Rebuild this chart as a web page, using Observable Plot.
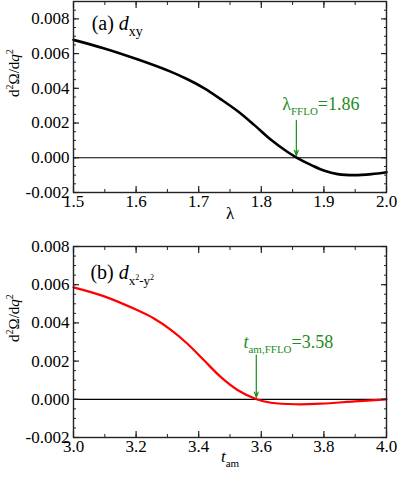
<!DOCTYPE html>
<html>
<head>
<meta charset="utf-8">
<script src="https://cdn.jsdelivr.net/npm/d3@7"></script>
<script src="https://cdn.jsdelivr.net/npm/@observablehq/plot@0.6"></script>
<style>
  html, body { margin: 0; padding: 0; background: white; font-family: "Liberation Serif", serif; }
  #chart svg { display: block; }
  #chart text, #chart tspan { font-family: "Liberation Serif", serif !important; }
</style>
</head>
<body>
<div id="chart"></div>
<script>
// ---- Panel (a): d_xy ----
const lambdaA = [1.500, 1.548, 1.602, 1.655, 1.682, 1.709, 1.735, 1.762, 1.789, 1.816, 1.842, 1.857, 1.880, 1.901, 1.922, 1.949, 1.976, 2.000];
const valuesA = [0.00679, 0.00631, 0.00567, 0.00496, 0.00452, 0.00400, 0.00338, 0.00269, 0.00188, 0.00102, 0.00033, 0.0, -0.00042, -0.00075, -0.00094, -0.00100, -0.00094, -0.00083];
// ---- Panel (b): d_x2-y2 ----
const tamB = [3.000, 3.096, 3.203, 3.257, 3.310, 3.364, 3.417, 3.471, 3.524, 3.585, 3.631, 3.711, 3.791, 3.898, 4.000];
const valuesB = [0.00586, 0.00540, 0.00467, 0.00423, 0.00365, 0.00291, 0.00204, 0.00116, 0.00049, 0.0, -0.00018, -0.00026, -0.00023, -0.00011, 0.0];

// tick labels
const yTicks = [-0.002, 0.000, 0.002, 0.004, 0.006, 0.008];
const xTicksA = [1.5, 1.6, 1.7, 1.8, 1.9, 2.0];
const xTicksB = [3.0, 3.2, 3.4, 3.6, 3.8, 4.0];
const yMinorA = d3.range(-0.002, 0.00901, 0.0005);
const yMinorB = d3.range(-0.002, 0.00801, 0.0005);
const xMinorA = d3.range(1.5, 2.0001, 0.05);
const xMinorB = d3.range(3.0, 4.0001, 0.1);

// annotations
const fflo = { a: 1.856, b: 3.584 };
const green = "#1e8c1e";
const FONT = "Liberation Serif";

const dataA = lambdaA.map((x, i) => ({x, y: valuesA[i]}));
const dataB = tamB.map((x, i) => ({x, y: valuesB[i]}));

function axesMarks(xMajor, xMinor, yMajor, yMinor, xFmt) {
  const yf = d => d.toFixed(3);
  return [
    Plot.axisY(yMajor, {anchor: "left", tickSize: 0, tickPadding: 4, tickFormat: yf, label: null, fill: "black", fontFamily: FONT}),
    Plot.axisY(yMajor, {anchor: "left", tickSize: -6, fill: "none", stroke: "#222", strokeWidth: 1.2, label: null}),
    Plot.axisY(yMajor, {anchor: "right", tickSize: -6, fill: "none", stroke: "#222", strokeWidth: 1.2, label: null}),
    Plot.axisY(yMinor, {anchor: "left", tickSize: -3, fill: "none", stroke: "#222", strokeWidth: 1, label: null}),
    Plot.axisY(yMinor, {anchor: "right", tickSize: -3, fill: "none", stroke: "#222", strokeWidth: 1, label: null}),
    Plot.axisX(xMajor, {anchor: "bottom", tickSize: 0, tickPadding: 2, tickFormat: xFmt, label: null, fill: "black", fontFamily: FONT}),
    Plot.axisX(xMajor, {anchor: "bottom", tickSize: -6, fill: "none", stroke: "#222", strokeWidth: 1.2, label: null}),
    Plot.axisX(xMajor, {anchor: "top", tickSize: -6, fill: "none", stroke: "#222", strokeWidth: 1.2, label: null}),
    Plot.axisX(xMinor, {anchor: "bottom", tickSize: -3, fill: "none", stroke: "#222", strokeWidth: 1, label: null}),
    Plot.axisX(xMinor, {anchor: "top", tickSize: -3, fill: "none", stroke: "#222", strokeWidth: 1, label: null})
  ];
}

const baseStyle = {fontFamily: FONT, fontSize: "17px", color: "black", background: "white", overflow: "visible"};

const plotA = Plot.plot({
  width: 397, height: 240,
  marginLeft: 73, marginRight: 11, marginTop: 1, marginBottom: 48,
  x: {domain: [1.5, 2.0]},
  y: {domain: [-0.002, 0.009]},
  style: baseStyle,
  marks: [
    Plot.ruleY([0], {stroke: "black", strokeWidth: 1.2}),
    Plot.line(dataA, {x: "x", y: "y", stroke: "black", strokeWidth: 2.6, curve: "catmull-rom"}),
    Plot.arrow([{x: fflo.a, y1: 0.00216, y2: 0.00013}], {x1: "x", x2: "x", y1: "y1", y2: "y2", stroke: green, strokeWidth: 1.2, headLength: 7, headAngle: 40}),
    Plot.text(["RICH_ANN_A"], {x: [1.8334], y: [0.00309], textAnchor: "start", fill: green, fontSize: 18, fontFamily: FONT}),
    Plot.text(["RICH_PANEL_A"], {x: [1.529], y: [0.00772], textAnchor: "start", fill: "black", fontSize: 20, fontFamily: FONT}),
    Plot.text(["λ"], {frameAnchor: "bottom", dy: 26, fontSize: 17, fill: "black", fontFamily: FONT}),
    Plot.text(["RICH_YLABEL"], {frameAnchor: "left", rotate: -90, dx: -59, fontSize: 15, fill: "black", fontFamily: FONT}),
    Plot.frame({stroke: "#222", strokeWidth: 1.4}),
    ...axesMarks(xTicksA, xMinorA, yTicks, yMinorA, d => d.toFixed(1))
  ]
});

const plotB = Plot.plot({
  width: 397, height: 238,
  marginLeft: 73, marginRight: 11, marginTop: 6, marginBottom: 41,
  x: {domain: [3.0, 4.0]},
  y: {domain: [-0.002, 0.008]},
  style: baseStyle,
  marks: [
    Plot.ruleY([0], {stroke: "black", strokeWidth: 1.2}),
    Plot.line(dataB, {x: "x", y: "y", stroke: "#ff0000", strokeWidth: 2.2, curve: "catmull-rom"}),
    Plot.arrow([{x: fflo.b, y1: 0.00232, y2: 0.0001}], {x1: "x", x2: "x", y1: "y1", y2: "y2", stroke: green, strokeWidth: 1.2, headLength: 7, headAngle: 40}),
    Plot.text(["RICH_ANN_B"], {x: [3.543], y: [0.00299], textAnchor: "start", fill: green, fontSize: 18, fontFamily: FONT}),
    Plot.text(["RICH_PANEL_B"], {x: [3.054], y: [0.00665], textAnchor: "start", fill: "black", fontSize: 20, fontFamily: FONT}),
    Plot.text(["RICH_XLABEL_B"], {frameAnchor: "bottom", dy: 24, fontSize: 17, fill: "black", fontFamily: FONT}),
    Plot.text(["RICH_YLABEL"], {frameAnchor: "left", rotate: -90, dx: -59, fontSize: 15, fill: "black", fontFamily: FONT}),
    Plot.frame({stroke: "#222", strokeWidth: 1.4}),
    ...axesMarks(xTicksB, xMinorB, yTicks, yMinorB, d => d.toFixed(1))
  ]
});

const chart = document.getElementById("chart");
chart.appendChild(plotA);
chart.appendChild(plotB);

// rich text: parts with {t, i (italic), s (font size), dy (baseline offset px, + = down)}
const richSpecs = {
  RICH_PANEL_A: [{t: "(a) "}, {t: "d", i: true}, {t: "xy", s: 14, dy: 6}],
  RICH_PANEL_B: [{t: "(b) "}, {t: "d", i: true}, {t: "x", s: 13, dy: 6}, {t: "2", s: 8, dy: 1}, {t: "-y", s: 13, dy: 6}, {t: "2", s: 8, dy: 1}],
  RICH_ANN_A: [{t: "λ"}, {t: "FFLO", s: 11, dy: 5}, {t: "=1.86", dy: 0}],
  RICH_ANN_B: [{t: "t", i: true}, {t: "am,FFLO", s: 11, dy: 5}, {t: "=3.58", dy: 0}],
  RICH_XLABEL_B: [{t: "t", i: true}, {t: "am", s: 11, dy: 5}],
  RICH_YLABEL: [{t: "d"}, {t: "2", s: 10, dy: -6}, {t: "Ω/d", dy: 0}, {t: "q", i: true}, {t: "2", s: 10, dy: -6}]
};

d3.selectAll("#chart svg text").each(function() {
  const key = this.textContent;
  const parts = richSpecs[key];
  if (!parts) return;
  const t = d3.select(this);
  t.text(null);
  let shift = 0;
  for (const p of parts) {
    const target = p.dy || 0;
    const ts = t.append("tspan").text(p.t);
    if (target !== shift) { ts.attr("dy", target - shift); shift = target; }
    if (p.i) ts.attr("font-style", "italic");
    if (p.s) ts.attr("font-size", p.s);
  }
});
d3.selectAll("#chart text, #chart tspan").style("font-family", FONT);
d3.selectAll("#chart svg").attr("font-family", FONT);
</script>
</body>
</html>
